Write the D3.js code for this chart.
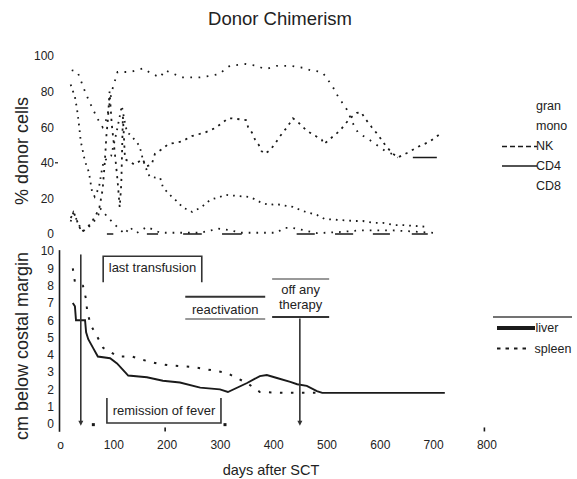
<!DOCTYPE html>
<html>
<head>
<meta charset="utf-8">
<script src="https://cdn.jsdelivr.net/npm/d3@7"></script>
<style>
body { margin: 0; background: #fff; }
svg { font-family: "Liberation Sans", Arial, Helvetica, sans-serif; }
</style>
</head>
<body>
<svg id="chart" width="577" height="479"></svg>
<script>
// x axis (days after SCT)
const xTicks = [0, 100, 200, 300, 400, 500, 600, 700, 800];
const xTickLabels = ['o', '100', '200', '300', '400', '500', '600', '700', '800'];
const pctTicks = [0, 20, 40, 60, 80, 100];
const cmTicks = [0, 1, 2, 3, 4, 5, 6, 7, 8, 9, 10];

// donor chimerism, [day, % donor cells]
const gran = [[22,92],[33,91],[47,80],[54,75],[62,70],[70,65],[80,60],[88,65],[97,80],[108,91],[132,91],[156,93],[172,90],[188,88],[197,92],[229,88],[263,88],[285,89],[300,90],[311,93],[319,94.5],[349,95.5],[370,94.5],[381,93],[390,93],[407,94.5],[432,94.5],[463,93],[469,92],[491,91],[497,89],[512,82.6],[522,77],[529,74],[538,70],[544,66],[548,63],[559,57],[585,52],[610,46.6],[623,45],[634,43]];
const mono = [[20,84],[28,77],[32,70],[35,63],[39,52],[46,42],[50,38],[54,35],[60,24],[65,21],[73,26],[78,35],[82,41],[87,42],[96,44],[106,57],[112,66],[116,72],[122,62],[126,57],[131,56],[137,54],[148,50],[153,45.5],[155,42],[159,39],[165,34],[169,32],[184,31.5],[188,31.5],[193,26.4],[201,23.6],[210,20.8],[221,18],[231,14.6],[238,14],[248,12.4],[266,15.2],[281,19],[287,19.7],[300,20.8],[310,22],[355,20.8],[364,19.7],[379,17.4],[394,16.3],[403,16.9],[437,15.2],[456,12.9],[482,10.7],[497,8.4],[553,7.3],[568,7.3],[591,6.2],[606,6.2],[628,5],[644,5],[690,4]];
const nk = [[20,9],[26,12],[30,9],[36,4],[42,1],[48,3],[55,5],[62,8],[68,11],[74,15],[80,25],[84,40],[87,55],[90,65],[93,80],[97,62],[103,45],[108,30],[112,15],[115,28],[118,66],[122,42],[140,39],[155,42],[162,38],[172,39],[178,45],[193,48],[203,50.5],[229,52],[247,55],[272,57],[291,59.5],[307,63],[315,65],[322,65],[349,64],[353,60],[360,57],[366,53],[373,50],[378,46.6],[384,45],[394,47],[404,51],[413,55],[426,60],[437,65],[446,63],[463,58],[491,53],[495,50.5],[501,52],[525,58],[544,65],[557,68],[565,68.5],[572,65],[585,60],[597,55.6],[610,50],[623,45.5],[634,43],[651,45.5],[672,49],[694,52],[717,57]];
const cd4 = [[88,0],[100,0],null,[163,0],[184,0],null,[231,0],[266,0],null,[304,0],[341,0],null,[444,0],[478,0],null,[516,0],[550,0],null,[587,0],[619,0],null,[660,0],[690,0],null,[662,43],[707,43]];
const cd8 = [[20,7],[25,12],[28,10],[36,5],[41,1.3],[50,3.4],[59,5],[66,8],[72,10.7],[75,14.6],[82,12],[94,8],[109,3.4],[122,0],[131,4],[137,2],[144,0.6],[163,4],[188,0.7],[263,0.7],[298,3],[319,2.2],[338,0.7],[407,0.7],[420,3.4],[437,3.4],[456,2.2],[482,0.5],[520,1],[560,2],[625,2],[647,1.7],[703,0.6]];
const chimerLegend = ['gran', 'mono', 'NK', 'CD4', 'CD8'];

// organ size, [day, cm below costal margin]
const liver = [[24,7],[28,6.8],[30,6],[47,6],[49,5.3],[53,4.9],[62,4.4],[71,3.9],[94,3.8],[107,3.5],[128,2.8],[163,2.7],[193,2.5],[225,2.4],[263,2.1],[300,2],[315,1.85],[351,2.37],[375,2.77],[388,2.83],[407,2.66],[432,2.43],[445,2.3],[463,2.2],[482,1.9],[492,1.8],[722,1.8]];
const spleen = [[24,9],[28,8.2],[43,8],[49,7.2],[51,6.5],[58,5.7],[69,5.1],[81,4.4],[109,3.9],[135,3.9],[156,3.7],[182,3.5],[203,3.4],[225,3.35],[248,3.3],[268,3.2],[313,2.95],[332,2.65],[351,2.37],[375,1.85],[418,1.8],[482,1.8]];

// events (days)
const arrowDays = [39, 450];
const eventLabels = ['last transfusion', 'reactivation', 'off any therapy', 'remission of fever'];
const eventDays = [[81, 266], [235, 385], [398, 505], [88, 302]];
const markDays = [62, 198, 309, 797];

const svg = d3.select('#chart');
const ink = '#1a1a1a';

const x = d3.scaleLinear().domain([0, 800]).range([60, 486.4]);
const yPct = d3.scaleLinear().domain([0, 100]).range([234, 56]);
const yCm = d3.scaleLinear().domain([0, 10]).range([424, 251]);

// title
svg.append('text')
  .attr('x', 280).attr('y', 25)
  .attr('text-anchor', 'middle')
  .style('font-size', '18.5px').style('fill', '#222')
  .text('Donor Chimerism');

// ---- top panel ----
const pctAxis = svg.append('g')
  .attr('transform', 'translate(54,0)')
  .call(d3.axisLeft(yPct).tickValues(pctTicks).tickSize(0).tickPadding(0));
pctAxis.select('.domain').remove();
pctAxis.selectAll('text').style('font-size', '12px').style('fill', '#222').style('font-family', 'inherit');

svg.append('line')
  .attr('x1', 55).attr('x2', 58)
  .attr('y1', yPct(40)).attr('y2', yPct(40))
  .attr('stroke', ink).attr('stroke-width', 1.2);

svg.append('text')
  .attr('transform', `translate(28,${151}) rotate(-90)`)
  .attr('text-anchor', 'middle')
  .style('font-size', '18px').style('fill', '#222')
  .text('% donor cells');

const linePct = d3.line()
  .defined(d => d)
  .x(d => x(d[0]))
  .y(d => yPct(d[1]));

const chimer = [
  {data: gran, dash: '1.7,6.5'},
  {data: mono, dash: '1.7,5'},
  {data: nk, dash: '2.2,5'},
  {data: cd4, dash: null},
  {data: cd8, dash: '1.7,6'}
];

svg.selectAll('.chimer')
  .data(chimer)
  .enter().append('path')
    .attr('class', 'chimer')
    .attr('d', d => linePct(d.data))
    .attr('fill', 'none')
    .attr('stroke', ink)
    .attr('stroke-width', d => d.dash ? 1.8 : 1.6)
    .attr('stroke-dasharray', d => d.dash);

// top legend
const tl = svg.append('g');
tl.selectAll('text')
  .data(chimerLegend)
  .enter().append('text')
    .attr('x', 536)
    .attr('y', (d, i) => 110 + i * 20)
    .style('font-size', '12.5px').style('fill', '#222')
    .text(d => d);
tl.append('line')
  .attr('x1', 502).attr('x2', 537).attr('y1', 146.5).attr('y2', 146.5)
  .attr('stroke', ink).attr('stroke-width', 1.5).attr('stroke-dasharray', '5,3');
tl.append('line')
  .attr('x1', 502).attr('x2', 537).attr('y1', 166).attr('y2', 166)
  .attr('stroke', ink).attr('stroke-width', 1.5);

// ---- bottom panel ----
const cmAxis = svg.append('g')
  .attr('transform', 'translate(54,0)')
  .call(d3.axisLeft(yCm).tickValues(cmTicks).tickSize(0).tickPadding(0));
cmAxis.select('.domain').remove();
cmAxis.selectAll('text').style('font-size', '12px').style('fill', '#222').style('font-family', 'inherit');

svg.append('line')
  .attr('x1', 59.5).attr('x2', 59.5)
  .attr('y1', yCm(10.05)).attr('y2', yCm(-0.45))
  .attr('stroke', ink).attr('stroke-width', 1.6);

svg.append('text')
  .attr('transform', `translate(28,${346}) rotate(-90)`)
  .attr('text-anchor', 'middle')
  .style('font-size', '18px').style('fill', '#222')
  .text('cm below costal margin');

const xAxis = svg.append('g')
  .attr('transform', 'translate(0,440)')
  .call(d3.axisBottom(x).tickValues(xTicks).tickSize(0).tickPadding(0)
    .tickFormat((d, i) => xTickLabels[i]));
xAxis.select('.domain').remove();
xAxis.selectAll('text').style('font-size', '12px').style('fill', '#222').style('font-family', 'inherit');

svg.append('text')
  .attr('x', 271).attr('y', 475)
  .attr('text-anchor', 'middle')
  .style('font-size', '14.5px').style('fill', '#222')
  .text('days after SCT');

// small marks on the baseline
svg.selectAll('.mark')
  .data(markDays)
  .enter().append('rect')
    .attr('class', 'mark')
    .attr('x', d => x(d) - 1.2)
    .attr('y', (d, i) => i % 2 ? yCm(-0.2) : yCm(0.05))
    .attr('width', (d, i) => i % 2 ? 1.6 : 3)
    .attr('height', (d, i) => i % 2 ? 4 : 3)
    .attr('fill', ink);

const lineCm = d3.line()
  .x(d => x(d[0]))
  .y(d => yCm(d[1]));

svg.append('path')
  .attr('d', lineCm(spleen))
  .attr('fill', 'none').attr('stroke', ink)
  .attr('stroke-width', 2).attr('stroke-dasharray', '2.5,8.5');

svg.append('path')
  .attr('d', lineCm(liver))
  .attr('fill', 'none').attr('stroke', ink)
  .attr('stroke-width', 1.9);

// arrows
arrowDays.forEach((d, i) => {
  const ax = x(d);
  const top = i === 0 ? yCm(9.8) : yCm(6.1);
  const bot = yCm(-0.1);
  svg.append('line')
    .attr('x1', ax).attr('x2', ax).attr('y1', top).attr('y2', bot - 3)
    .attr('stroke', '#333').attr('stroke-width', 1.6);
  svg.append('path')
    .attr('d', `M${ax - 2.5},${bot - 5}L${ax + 2.5},${bot - 5}L${ax},${bot}Z`)
    .attr('fill', '#333');
});

// event annotations
const ev = svg.append('g').attr('fill', 'none');
// last transfusion: open box (no bottom)
{
  const [a, b] = eventDays[0];
  const t = yCm(9.7), u = yCm(8.2);
  ev.append('path')
    .attr('d', `M${x(a)},${u}V${t}H${x(b)}V${u}`)
    .attr('stroke', '#333').attr('stroke-width', 1.6);
  svg.append('text')
    .attr('x', (x(a) + x(b)) / 2).attr('y', 271.5)
    .attr('text-anchor', 'middle')
    .style('font-size', '13px').style('fill', '#222')
    .text(eventLabels[0]);
}
// reactivation: two bars
{
  const [a, b] = eventDays[1];
  ev.append('line')
    .attr('x1', x(a)).attr('x2', x(b)).attr('y1', yCm(7.35)).attr('y2', yCm(7.35))
    .attr('stroke', '#333').attr('stroke-width', 2);
  ev.append('line')
    .attr('x1', x(a)).attr('x2', x(b)).attr('y1', yCm(6.07)).attr('y2', yCm(6.07))
    .attr('stroke', '#999').attr('stroke-width', 2);
  svg.append('text')
    .attr('x', (x(a) + x(b)) / 2).attr('y', 313.5)
    .attr('text-anchor', 'middle')
    .style('font-size', '13px').style('fill', '#222')
    .text(eventLabels[1]);
}
// off any therapy
{
  const [a, b] = eventDays[2];
  ev.append('line')
    .attr('x1', x(a)).attr('x2', x(b)).attr('y1', yCm(8.38)).attr('y2', yCm(8.38))
    .attr('stroke', '#999').attr('stroke-width', 2);
  ev.append('line')
    .attr('x1', x(a)).attr('x2', x(b)).attr('y1', yCm(6.18)).attr('y2', yCm(6.18))
    .attr('stroke', '#333').attr('stroke-width', 2);
  const words = eventLabels[2].split(/ (?=therapy)/);
  svg.append('text')
    .attr('text-anchor', 'middle')
    .style('font-size', '13px').style('fill', '#222')
    .selectAll('tspan')
    .data(words)
    .enter().append('tspan')
      .attr('x', (x(a) + x(b)) / 2)
      .attr('y', (d, i) => 293.5 + i * 15)
      .text(d => d);
}
// remission of fever: open box (no top)
{
  const [a, b] = eventDays[3];
  const t = yCm(1.5), u = yCm(0.06);
  ev.append('path')
    .attr('d', `M${x(a)},${t}V${u}H${x(b)}V${t}`)
    .attr('stroke', '#333').attr('stroke-width', 1.6);
  svg.append('text')
    .attr('x', (x(a) + x(b)) / 2).attr('y', 414.5)
    .attr('text-anchor', 'middle')
    .style('font-size', '13px').style('fill', '#222')
    .text(eventLabels[3]);
}

// bottom legend
const bl = svg.append('g');
bl.append('line')
  .attr('x1', 493).attr('x2', 572).attr('y1', 317).attr('y2', 317)
  .attr('stroke', '#444').attr('stroke-width', 1.6);
bl.append('line')
  .attr('x1', 497).attr('x2', 535).attr('y1', 328).attr('y2', 328)
  .attr('stroke', ink).attr('stroke-width', 4);
bl.append('line')
  .attr('x1', 497).attr('x2', 528).attr('y1', 348.5).attr('y2', 348.5)
  .attr('stroke', ink).attr('stroke-width', 1.8).attr('stroke-dasharray', '3.5,5');
bl.append('text')
  .attr('x', 535.5).attr('y', 332)
  .style('font-size', '12.5px').style('fill', '#222')
  .text('liver');
bl.append('text')
  .attr('x', 534.5).attr('y', 352.5)
  .style('font-size', '12.5px').style('fill', '#222')
  .text('spleen');
</script>
</body>
</html>
